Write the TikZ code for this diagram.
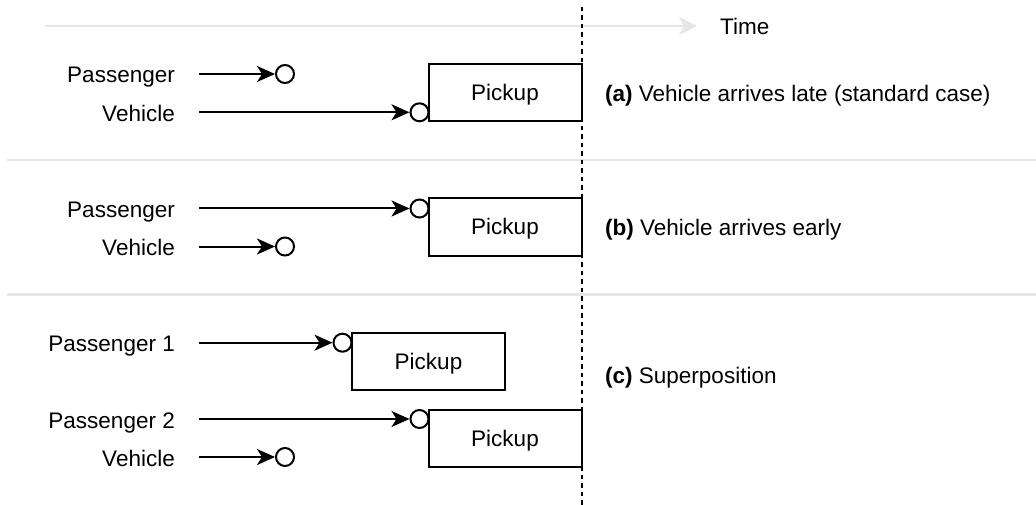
\documentclass[tikz,border=0pt]{standalone}
\usepackage{fontspec}
\setmainfont{Liberation Sans}
\usetikzlibrary{arrows.meta}
\definecolor{sepgray}{HTML}{E6E6E6}
\begin{document}
\begin{tikzpicture}[x=1pt,y=-1pt,
  every node/.style={font=\fontsize{22.5}{26}\selectfont, inner sep=0pt, text height=16pt, text depth=0pt},
  lbl/.style={anchor=east},
  captxt/.style={anchor=west},
  dot/.style={circle, draw=black, line width=2pt, fill=white, minimum size=18pt, text height=, text depth=},
  pickbox/.style={rectangle, draw=black, line width=2pt, fill=white, minimum width=153pt, minimum height=57pt},
  flow/.style={line width=2pt, -{Stealth[length=18pt,width=16pt,inset=5pt]}},
  sep/.style={draw=sepgray, line width=2.2pt},
  timeline/.style={draw=sepgray, line width=2.2pt, -{Stealth[length=18pt,width=18pt,inset=5pt]}},
  nowline/.style={draw=black, line width=2pt, dash pattern=on 4.5pt off 4pt}
]
\useasboundingbox (0,0) rectangle (1036,505);

% time axis
\coordinate (t0) at (45,26);
\coordinate (t1) at (697,26);
\draw[timeline] (t0) -- (t1);
\node[captxt] (time) at (720,27) {Time};

% separators
\coordinate (s1a) at (7,160); \coordinate (s1b) at (1036,160);
\coordinate (s2a) at (7,294.5); \coordinate (s2b) at (1036,294.5);
\draw[sep] (s1a) -- (s1b);
\draw[sep] (s2a) -- (s2b);

% ---- panel a
\node[pickbox] (pa) at (505,92.7) {Pickup};
\node[lbl] (la1) at (175,75) {Passenger};
\node[lbl] (la2) at (175,113.3) {Vehicle};
\coordinate (sa1) at (199,74);
\coordinate (sa2) at (199,112.3);
\node[dot] (ca1) at (285,74) {};
\node[dot] (ca2) at (419.5,112.3) {};
\draw[flow] (sa1) -- (ca1.west);
\draw[flow] (sa2) -- (ca2.west);
\node[captxt] (capa) at (605,94) {\textbf{(a)} Vehicle arrives late (standard case)};

% ---- panel b
\node[pickbox] (pb) at (505,227) {Pickup};
\node[lbl] (lb1) at (175,209.5) {Passenger};
\node[lbl] (lb2) at (175,247.5) {Vehicle};
\coordinate (sb1) at (199,208.5);
\coordinate (sb2) at (199,246.5);
\node[dot] (cb1) at (419.5,208.5) {};
\node[dot] (cb2) at (285,246.5) {};
\draw[flow] (sb1) -- (cb1.west);
\draw[flow] (sb2) -- (cb2.west);
\node[captxt] (capb) at (605,228) {\textbf{(b)} Vehicle arrives early};

% ---- panel c
\node[pickbox] (pc1) at (428.5,361.5) {Pickup};
\node[pickbox] (pc2) at (505,438) {Pickup};
\node[lbl] (lc1) at (175,343.7) {Passenger 1};
\node[lbl] (lc2) at (175,420) {Passenger 2};
\node[lbl] (lc3) at (175,458) {Vehicle};
\coordinate (sc1) at (199,342.7);
\coordinate (sc2) at (199,419);
\coordinate (sc3) at (199,457);
\node[dot] (cc1) at (342.5,342.7) {};
\node[dot] (cc2) at (419.5,419) {};
\node[dot] (cc3) at (285,457) {};
\draw[flow] (sc1) -- (cc1.west);
\draw[flow] (sc2) -- (cc2.west);
\draw[flow] (sc3) -- (cc3.west);
\node[captxt] (capc) at (605,375) {\textbf{(c)} Superposition};

% now line
\coordinate (n0) at (581.5,7);
\coordinate (n1) at (581.5,505);
\draw[nowline] (n0) -- (n1);
\end{tikzpicture}
\end{document}
